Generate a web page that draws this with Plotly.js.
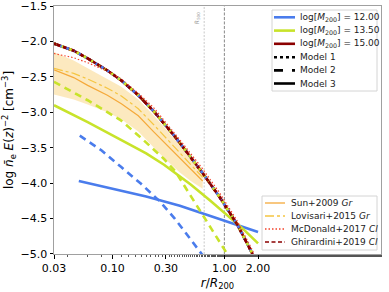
<!DOCTYPE html>
<html><head><meta charset="utf-8">
<script src="https://cdn.plot.ly/plotly-3.0.1.min.js"></script>
<style>html,body{margin:0;padding:0;background:#fff}#chart{width:389px;height:292px}</style>
</head><body><div id="chart"></div>
<script>
// ---- data ----
const massLabels = ['12.00', '13.50', '15.00'];
const massColors = ['#4a7cec', '#c8e32a', '#8b0000'];
const modelLabels = ['Model 1', 'Model 2', 'Model 3'];

// self-similar profile (Model 1 of every mass; Models 2/3 of log M = 15)
const rSelf = [0.03, 0.045, 0.06, 0.09, 0.12, 0.17, 0.235, 0.29, 0.36, 0.45, 0.64, 0.9, 1.31, 1.77, 2.0];
const ySelf = [-2.03, -2.13, -2.24, -2.41, -2.55, -2.76, -2.99, -3.16, -3.34, -3.54, -3.86, -4.19, -4.59, -4.99, -5.17];

// log M = 13.5
const rM135_m2 = [0.03, 0.06, 0.118, 0.18, 0.289, 0.363, 0.5, 0.7, 0.9, 1.06, 1.2];
const yM135_m2 = [-2.57, -2.83, -3.11, -3.36, -3.66, -3.83, -4.18, -4.54, -4.82, -5.0, -5.15];
const rM135_m3 = [0.03, 0.06, 0.119, 0.2, 0.289, 0.5, 0.75, 1.06, 1.5, 2.0];
const yM135_m3 = [-2.90, -3.14, -3.39, -3.58, -3.74, -4.02, -4.25, -4.45, -4.66, -4.85];

// log M = 12
const rM12_m2 = [0.051, 0.08, 0.119, 0.18, 0.266, 0.36, 0.45, 0.55, 0.64, 0.72];
const yM12_m2 = [-3.33, -3.54, -3.77, -4.01, -4.26, -4.50, -4.70, -4.88, -5.02, -5.15];
const rM12_m3 = [0.05, 0.1, 0.2, 0.4, 0.7, 1.0, 1.5, 2.0];
const yM12_m3 = [-3.97, -4.08, -4.19, -4.32, -4.45, -4.53, -4.62, -4.69];

// observations
const rSun = [0.03, 0.045, 0.06, 0.09, 0.12, 0.17, 0.235, 0.3, 0.4, 0.5, 0.64];
const ySunMed = [-2.40, -2.51, -2.62, -2.76, -2.88, -3.05, -3.28, -3.45, -3.65, -3.80, -3.97];
const ySunHi = [-2.15, -2.27, -2.38, -2.53, -2.64, -2.82, -3.05, -3.24, -3.47, -3.64, -3.84];
const ySunLo = [-2.75, -2.82, -2.89, -3.00, -3.10, -3.27, -3.50, -3.67, -3.85, -3.97, -4.08];
const rLov = [0.03, 0.045, 0.06, 0.09, 0.12, 0.17, 0.235, 0.3, 0.4, 0.5, 0.64];
const yLov = [-2.38, -2.45, -2.53, -2.66, -2.77, -2.95, -3.18, -3.36, -3.57, -3.73, -3.92];
const rMcD = [0.03, 0.045, 0.06, 0.09, 0.12, 0.17, 0.235, 0.29, 0.36, 0.45, 0.64, 0.9, 1.31, 1.77, 2.0];
const yMcD = [-2.17, -2.23, -2.30, -2.42, -2.53, -2.73, -2.94, -3.11, -3.30, -3.49, -3.80, -4.13, -4.54, -4.94, -5.12];
const rGhi = [0.03, 0.045, 0.06, 0.09, 0.12, 0.17, 0.235, 0.29, 0.36, 0.45, 0.64, 0.9, 1.31, 1.77, 2.0];
const yGhi = [-2.03, -2.13, -2.24, -2.41, -2.55, -2.76, -2.99, -3.16, -3.34, -3.54, -3.86, -4.19, -4.59, -4.99, -5.17];

const obsLabels = ['Sun+2009 <i>Gr</i>', 'Lovisari+2015 <i>Gr</i>', 'McDonald+2017 <i>Cl</i>', 'Ghirardini+2019 <i>Cl</i>'];
const obsColors = ['#f5a93a', '#f5c542', '#f4422a', '#8b0000'];

const rVert = [0.66, 1.0];   // R500/R200 and R200/R200
const yLim = [-5, -1.5];
const yTicks = [-5, -4.5, -4, -3.5, -3, -2.5, -2, -1.5];
const xTicks = [0.03, 0.1, 0.3, 1, 2];
const xTickText = ['0.03', '0.10', '0.30', '1.00', '2.00'];

// ---- traces ----
const traces = [];
const W = 2.6;
const DASH = '7px,5px';
traces.push({x: [rVert[0], rVert[0]], y: yLim, mode: 'lines', line: {color: '#c8c8c8', width: 1, dash: '2px,1.5px'}, hoverinfo: 'skip'});
traces.push({x: [rVert[1], rVert[1]], y: yLim, mode: 'lines', line: {color: '#888888', width: 1, dash: '3px,1.5px'}, hoverinfo: 'skip'});

traces.push({x: rSun, y: ySunLo, mode: 'lines', line: {width: 0, color: 'rgba(0,0,0,0)'}, hoverinfo: 'skip'});
traces.push({x: rSun, y: ySunHi, mode: 'lines', line: {width: 0, color: 'rgba(0,0,0,0)'}, fill: 'tonexty', fillcolor: 'rgba(248,200,95,0.4)', hoverinfo: 'skip'});

traces.push({x: rM12_m3, y: yM12_m3, mode: 'lines', line: {color: massColors[0], width: W}});
traces.push({x: rM12_m2, y: yM12_m2, mode: 'lines', line: {color: massColors[0], width: W, dash: DASH}});
traces.push({x: rM135_m3, y: yM135_m3, mode: 'lines', line: {color: massColors[1], width: W}});
traces.push({x: rM135_m2, y: yM135_m2, mode: 'lines', line: {color: massColors[1], width: W, dash: DASH}});
traces.push({x: rSelf, y: ySelf, mode: 'lines', line: {color: massColors[2], width: W}});
traces.push({x: rSelf, y: ySelf, mode: 'lines', line: {color: massColors[2], width: W, dash: DASH}});

const obsDash = ['solid', 'dashdot', '1.5px,2px', '4px,2.5px'];
traces.push({x: rSun, y: ySunMed, mode: 'lines', line: {color: obsColors[0], width: 1.2, dash: obsDash[0]}});
traces.push({x: rLov, y: yLov, mode: 'lines', line: {color: obsColors[1], width: 1.2, dash: obsDash[1]}});
traces.push({x: rMcD, y: yMcD, mode: 'lines', line: {color: obsColors[2], width: 1.2, dash: obsDash[2]}});
traces.push({x: rGhi, y: yGhi, mode: 'lines', line: {color: obsColors[3], width: 1.2, dash: obsDash[3]}});

traces.push({x: rSelf, y: ySelf, mode: 'lines', line: {color: massColors[0], width: W, dash: '2.6px,4px'}});
traces.push({x: rSelf, y: ySelf, mode: 'lines', line: {color: massColors[1], width: W, dash: '2.6px,5.5px'}});
traces.push({x: rSelf, y: ySelf, mode: 'lines', line: {color: massColors[2], width: W, dash: '2.6px,7px'}});

// ---- hand-built legends (pixel layout -> paper coords) ----
const PL = 54, PW = 327, PT = 6, PH = 248;
const px = v => (v - PL) / PW;
const py = v => (PT + PH - v) / PH;
const shapes = [], annotations = [];
function legendBox(x0, y0, x1, y1) {
  shapes.push({type: 'rect', xref: 'paper', yref: 'paper', x0: px(x0), x1: px(x1), y0: py(y1), y1: py(y0),
    fillcolor: 'rgba(255,255,255,0.85)', line: {color: '#d4d4d4', width: 1}, layer: 'above'});
}
function legendItem(lx0, lx1, tx, y, color, width, dash, text) {
  shapes.push({type: 'line', xref: 'paper', yref: 'paper', x0: px(lx0), x1: px(lx1), y0: py(y), y1: py(y),
    line: {color: color, width: width, dash: dash}, layer: 'above'});
  annotations.push({xref: 'paper', yref: 'paper', x: px(tx), y: py(y), text: text, showarrow: false,
    xanchor: 'left', yanchor: 'middle', font: {size: 9, color: '#222'}});
}
legendBox(272, 10, 377, 91);
const l1y = [17.3, 30.6, 43.8, 57.2, 70.4, 83.5];
for (let i = 0; i < 3; i++) legendItem(274, 295, 298, l1y[i], massColors[i], W, 'solid', 'log[<i>M</i><sub>200</sub>] = ' + massLabels[i]);
const modelDash = ['dot', 'dash', 'solid'];
for (let i = 0; i < 3; i++) legendItem(274, 295, 298, l1y[3 + i], '#000', W, modelDash[i], modelLabels[i]);

legendBox(262, 196, 377, 250);
const l2y = [203, 216, 229, 242];
for (let i = 0; i < 4; i++) legendItem(265, 285, 289, l2y[i], obsColors[i], 1.3, obsDash[i], obsLabels[i]);

annotations.push({
  x: Math.log10(rVert[0]), y: -1.55, xref: 'x', yref: 'y', text: '<i>R</i><sub>500</sub>',
  textangle: -90, showarrow: false, xanchor: 'right', yanchor: 'top', xshift: -1,
  font: {size: 6, color: '#999'}
});

const layout = {
  width: 389, height: 292,
  margin: {l: 54, r: 8, t: 6, b: 38},
  paper_bgcolor: '#fff', plot_bgcolor: '#fff',
  font: {family: 'DejaVu Sans, sans-serif', size: 11, color: '#000'},
  showlegend: false,
  xaxis: {
    type: 'log', range: [Math.log10(0.03), 1.40],
    tickvals: xTicks, ticktext: xTickText,
    ticks: 'outside', ticklen: 3.5, tickcolor: '#000',
    showgrid: false, zeroline: false,
    showline: true, linecolor: '#a0a0a0', linewidth: 1, mirror: true,
    tickfont: {size: 11}, ticklabeloverflow: 'allow',
    minor: {ticks: 'outside', ticklen: 2, tickcolor: '#555', showgrid: false},
    title: {text: '<i>r</i>/<i>R</i><sub>200</sub>', font: {size: 12}, standoff: 4}
  },
  yaxis: {
    range: [-5.0005, -1.4995], tickvals: yTicks, tickformat: '.1f',
    ticks: 'outside', ticklen: 3.5, tickcolor: '#000',
    showgrid: false, zeroline: false,
    showline: true, linecolor: '#a0a0a0', linewidth: 1, mirror: true,
    tickfont: {size: 11}, ticklabeloverflow: 'allow',
    title: {text: 'log <i>n\u0304</i><sub>e</sub> <i>E</i>(<i>z</i>)<sup>\u22122</sup> [cm<sup>\u22123</sup>]', font: {size: 12}, standoff: 6}
  },
  shapes: shapes,
  annotations: annotations
};
Plotly.newPlot('chart', traces, layout, {displayModeBar: false, staticPlot: true});
</script></body></html>
